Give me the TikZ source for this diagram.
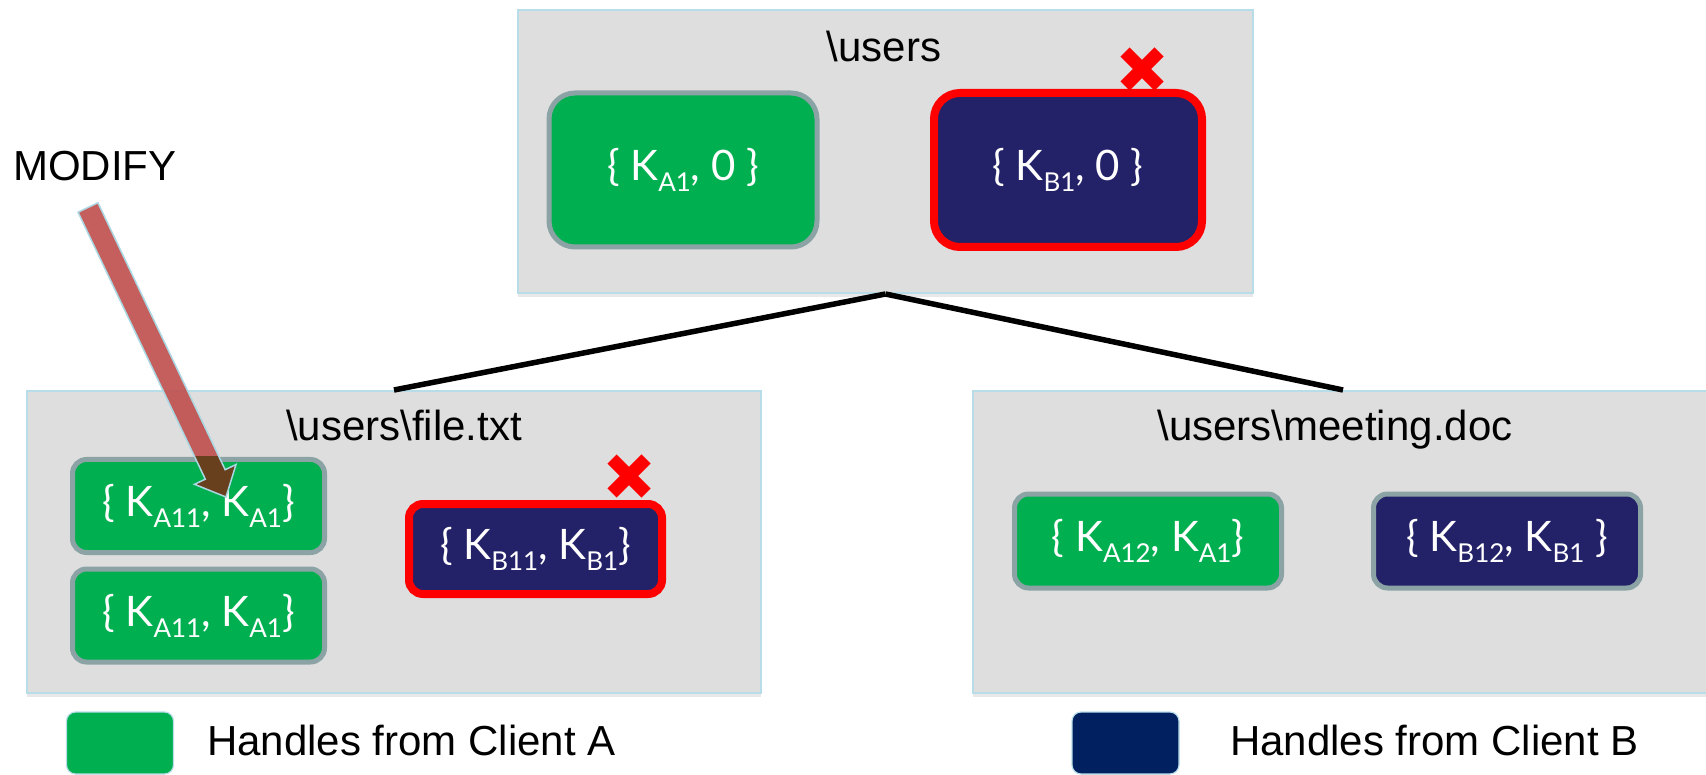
\documentclass[tikz,border=0pt]{standalone}
\usepackage{fontspec}
\setmainfont{Liberation Sans}
\newfontfamily\handlefont{Lato}
\usetikzlibrary{positioning,calc,shadows}

\definecolor{panelgray}{RGB}{222,222,222}
\definecolor{paneledge}{RGB}{183,221,232}
\definecolor{keygreen}{RGB}{0,176,80}
\definecolor{keynavy}{RGB}{35,33,104}
\definecolor{legnavy}{RGB}{0,32,96}
\definecolor{keyedge}{RGB}{140,163,166}
\definecolor{revred}{RGB}{255,0,0}
\definecolor{modred}{RGB}{190,78,76}
\definecolor{modbrown}{RGB}{105,64,30}
\definecolor{modedge}{RGB}{170,215,225}

% subscript of a key name
\newcommand{\hsub}[1]{\raisebox{-11pt}{\fontsize{26}{26}\selectfont #1}}

\tikzstyle{panel}=[rectangle,fill=panelgray,draw=paneledge,line width=2pt,drop shadow={opacity=0.18,shadow xshift=0pt,shadow yshift=-4pt}]
\tikzstyle{ptitle}=[font=\fontsize{42}{42}\selectfont,anchor=base,inner sep=0pt]
\tikzstyle{handle}=[rectangle,rounded corners=14pt,line width=5pt,draw=keyedge,text=white,font=\handlefont\fontsize{42}{42}\selectfont,inner sep=0pt,minimum width=252pt,minimum height=93pt]
\tikzstyle{handleA}=[handle,fill=keygreen]
\tikzstyle{handleB}=[handle,fill=keynavy]
\tikzstyle{bigkey}=[minimum width=268pt,minimum height=154pt,rounded corners=26pt]
\tikzstyle{revoked}=[draw=revred,line width=8pt]
\tikzstyle{xmark}=[draw=revred,line width=13pt]
\tikzstyle{legkey}=[rectangle,rounded corners=9pt,draw=paneledge,line width=1.2pt,minimum width=107pt,minimum height=62pt]
\tikzstyle{link}=[line width=5.5pt,black]

\begin{document}
\begin{tikzpicture}[x=1pt,y=-1pt]
	\useasboundingbox (0,0) rectangle (1706,775);
	\clip (0,0) rectangle (1706,775);

	% directories
	\node[panel,minimum width=735pt,minimum height=283pt] (root) at (885.5,151.5) {};
	\node[panel,minimum width=734pt,minimum height=302pt] (file) at (394,542) {};
	\node[panel,minimum width=740pt,minimum height=302pt] (meet) at (1343,542) {};

	\node[ptitle] (roott) at (884,62) {\textbackslash users};
	\node[ptitle] (filet) at (404,441) {\textbackslash users\textbackslash file.txt};
	\node[ptitle] (meett) at (1335,441) {\textbackslash users\textbackslash meeting.doc};

	\draw[link] (root.south) -- (file.north);
	\draw[link] (root.south) -- (meet.north);

	% handles
	\node[handleA,bigkey] (rA) at (683,170) {\{ K\hsub{A1}, 0 \}};
	\node[handleB,bigkey,revoked] (rB) at (1068,170) {\{ K\hsub{B1}, 0 \}};

	\node[handleA] (fA1) at (198.5,506) {\{ K\hsub{A11}, K\hsub{A1}\}};
	\node[handleA] (fA2) at (198.5,615.5) {\{ K\hsub{A11}, K\hsub{A1}\}};
	\node[handleB,revoked,minimum width=253pt,minimum height=90pt] (fB) at (535.5,549) {\{ K\hsub{B11}, K\hsub{B1}\}};

	\node[handleA,minimum width=267pt,minimum height=94pt] (mA) at (1148,541) {\{ K\hsub{A12}, K\hsub{A1}\}};
	\node[handleB,minimum width=267pt,minimum height=94pt] (mB) at (1507,541) {\{ K\hsub{B12}, K\hsub{B1} \}};

	% closed handles
	\coordinate (xtop) at (1142,69);
	\coordinate (xfile) at (629,476);
	\foreach \c in {xtop,xfile}
		\draw[xmark] ($(\c)+(-17,-17)$) -- ($(\c)+(17,17)$) ($(\c)+(-17,17)$) -- ($(\c)+(17,-17)$);

	% modify arrow
	\node[ptitle,anchor=base west] (modify) at (13,181) {MODIFY};
	\coordinate (tail) at (88,207.5);
	\coordinate (tip) at (226,497);
	\coordinate (hb) at ($(tip)!25pt!(tail)$);
	\coordinate (t1) at ($(tail)!11pt!90:(tip)$);
	\coordinate (t2) at ($(tail)!11pt!-90:(tip)$);
	\coordinate (s1) at ($(hb)!11pt!90:(tip)$);
	\coordinate (s2) at ($(hb)!11pt!-90:(tip)$);
	\coordinate (h1) at ($(hb)!23pt!90:(tip)$);
	\coordinate (h2) at ($(hb)!23pt!-90:(tip)$);
	\fill[modred,opacity=0.9] (t1) -- (s1) -- (h1) -- (tip) -- (h2) -- (s2) -- (t2) -- cycle;
	\begin{scope}
		\clip (fA1.north west) rectangle (fA1.south east);
		\fill[modbrown] (t1) -- (s1) -- (h1) -- (tip) -- (h2) -- (s2) -- (t2) -- cycle;
	\end{scope}
	\draw[modedge,line width=1.5pt,line join=miter] (t1) -- (s1) -- (h1) -- (tip) -- (h2) -- (s2) -- (t2) -- cycle;

	% legend
	\node[legkey,fill=keygreen] (legA) at (120,743) {};
	\node[ptitle,anchor=base west] (legAt) at (207,755) {Handles from Client A};
	\node[legkey,fill=legnavy] (legB) at (1125.5,743) {};
	\node[ptitle,anchor=base west] (legBt) at (1230,755) {Handles from Client B};
\end{tikzpicture}
\end{document}
